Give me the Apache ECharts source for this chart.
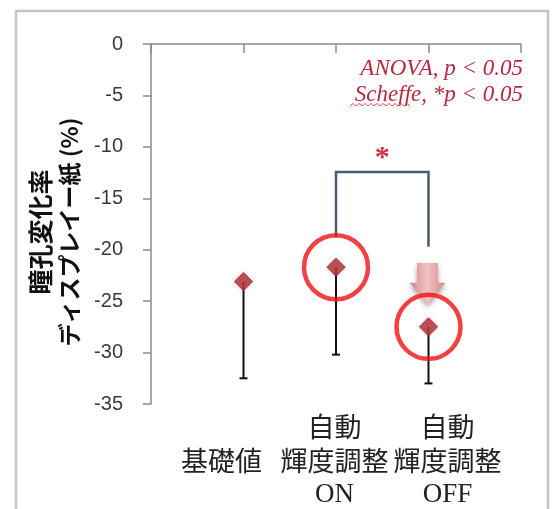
<!DOCTYPE html>
<html>
<head>
<meta charset="utf-8">
<script src="https://cdn.jsdelivr.net/npm/echarts@6/dist/echarts.min.js"></script>
<style>
html, body { margin: 0; padding: 0; background: #fff; }
#main { width: 554px; height: 509px; }
</style>
</head>
<body>
<div id="main"></div>
<script>
// 条件ごとの値
var categories = ['基礎値', '自動\n輝度調整\nON', '自動\n輝度調整\nOFF'];
var means = [-23.1, -21.7, -27.5];
var lows = [-32.5, -30.2, -33.0];
var circled = [1, 2];          // 赤丸で囲む条件
var yMin = -35, yMax = 0, yStep = 5;

// 有意差の括弧と矢印
var bracketFrom = 1, bracketTo = 2;
var bracketTop = -12.45, bracketLeftEnd = -18.8, bracketRightEnd = -19.7;
var arrowAt = 2, arrowTop = -21.3, arrowHead = -23.2, arrowTip = -25.3;

var slots = ['s0', 'c0', 'c1', 'c2', 's4'];   // 上の軸の目盛り位置

var myChart = echarts.init(document.getElementById('main'));

function slotOf(i) { return i + 1; }

// Scheffe の下の波線
var wave = [];
for (var wx = 350; wx <= 412; wx += 3) {
	wave.push([wx, (wx - 350) % 6 == 0 ? 106 : 103.5]);
}

var option = {
	animation: false,
	grid: [
		{ left: 151, right: 33, top: 44, bottom: 105 },
		{ left: 165, right: 50, top: 44, bottom: 105 }
	],
	xAxis: [{
		gridIndex: 0,
		type: 'category',
		data: slots,
		boundaryGap: false,
		position: 'top',
		axisLine: { lineStyle: { color: '#8a8a8a', width: 1.5 } },
		axisTick: { inside: true, length: 9, lineStyle: { color: '#8a8a8a', width: 1.5 } },
		axisLabel: { show: false },
		splitLine: { show: false }
	}, {
		gridIndex: 1,
		type: 'category',
		data: categories,
		position: 'bottom',
		axisLine: { show: false },
		axisTick: { show: false },
		splitLine: { show: false },
		axisLabel: {
			margin: 6,
			interval: 0,
			formatter: function (v) {
				var lines = v.split('\n');
				if (lines.length == 1) {
					return '{jp| }\n{jp|' + lines[0] + '}\n{en| }';
				}
				return '{jp|' + lines[0] + '}\n{jp|' + lines[1] + '}\n{en|' + lines[2] + '}';
			},
			rich: {
				jp: { fontFamily: 'Noto Sans CJK JP', fontSize: 27, lineHeight: 34, color: '#222' },
				en: { fontFamily: 'Liberation Serif', fontSize: 27, lineHeight: 34, color: '#222' }
			}
		}
	}],
	yAxis: [{
		gridIndex: 0,
		type: 'value',
		min: yMin,
		max: yMax,
		interval: yStep,
		name: '{a|瞳孔変化率}\n{b|ディスプレイー紙 (%)}',
		nameLocation: 'middle',
		nameRotate: 90,
		nameGap: 67,
		nameTextStyle: {
			padding: [0, 16, 0, 0],
			rich: {
				a: { fontFamily: 'Noto Sans CJK JP', fontWeight: 'bold', fontSize: 25, lineHeight: 29, color: '#111' },
				b: { fontFamily: 'Noto Sans CJK JP', fontWeight: 'bold', fontSize: 23, lineHeight: 29, color: '#111' }
			}
		},
		axisLine: { show: true, lineStyle: { color: '#8a8a8a', width: 1.5 } },
		axisTick: { show: true, length: 8, lineStyle: { color: '#8a8a8a', width: 1.5 } },
		axisLabel: { margin: 28, fontFamily: 'Liberation Sans', fontSize: 20, color: '#3a3a3a' },
		splitLine: { show: false }
	}, {
		gridIndex: 1,
		type: 'value',
		min: yMin,
		max: yMax,
		show: false
	}],
	graphic: [{
		type: 'rect',
		shape: { x: 16, y: 11, width: 532, height: 520 },
		style: { fill: 'none', stroke: '#c4c4c4', lineWidth: 2.5 },
		silent: true
	}, {
		type: 'text',
		right: 31,
		top: 57,
		style: { text: 'ANOVA, p < 0.05', font: 'italic 23px "Liberation Serif"', fill: '#b8283e' }
	}, {
		type: 'text',
		right: 31,
		top: 83,
		style: { text: 'Scheffe, *p < 0.05', font: 'italic 23px "Liberation Serif"', fill: '#b8283e' }
	}, {
		type: 'polyline',
		shape: { points: wave },
		style: { stroke: '#e05050', lineWidth: 1, fill: null },
		silent: true
	}],
	series: [{
		// エラーバー（下側のみ）
		type: 'custom',
		xAxisIndex: 0,
		yAxisIndex: 0,
		data: means.map(function (m, i) { return [slotOf(i), m, lows[i]]; }),
		renderItem: function (params, api) {
			var p1 = api.coord([api.value(0), api.value(1)]);
			var p2 = api.coord([api.value(0), api.value(2)]);
			return {
				type: 'group',
				children: [{
					type: 'line',
					shape: { x1: p1[0], y1: p1[1], x2: p2[0], y2: p2[1] },
					style: { stroke: '#111', lineWidth: 2 }
				}, {
					type: 'line',
					shape: { x1: p2[0] - 4, y1: p2[1], x2: p2[0] + 4, y2: p2[1] },
					style: { stroke: '#111', lineWidth: 2 }
				}]
			};
		},
		z: 2
	}, {
		type: 'scatter',
		xAxisIndex: 0,
		yAxisIndex: 0,
		symbol: 'diamond',
		symbolSize: 18,
		data: means.map(function (m, i) { return [slotOf(i), m]; }),
		itemStyle: {
			color: '#b0343a',
			borderColor: '#8e262b',
			borderWidth: 1,
			shadowBlur: 3,
			shadowColor: 'rgba(190,70,70,0.5)'
		},
		z: 4
	}, {
		// 赤丸
		type: 'scatter',
		xAxisIndex: 0,
		yAxisIndex: 0,
		symbol: 'circle',
		symbolSize: 64,
		data: circled.map(function (i) { return [slotOf(i), means[i]]; }),
		itemStyle: { color: 'rgba(0,0,0,0)', borderColor: '#f01010', borderWidth: 4.5 },
		z: 5
	}, {
		// 有意差の括弧と＊
		type: 'custom',
		xAxisIndex: 0,
		yAxisIndex: 0,
		data: [[slotOf(bracketFrom), slotOf(bracketTo), bracketTop, bracketLeftEnd, bracketRightEnd]],
		renderItem: function (params, api) {
			var a = api.coord([api.value(0), api.value(3)]);
			var b = api.coord([api.value(0), api.value(2)]);
			var c = api.coord([api.value(1), api.value(2)]);
			var d = api.coord([api.value(1), api.value(4)]);
			return {
				type: 'group',
				children: [{
					type: 'polyline',
					shape: { points: [a, b, c, d] },
					style: { stroke: '#4a5a70', lineWidth: 2.5, fill: null }
				}, {
					type: 'text',
					x: (b[0] + c[0]) / 2,
					y: b[1] - 14,
					style: {
						text: '*',
						font: 'bold 30px "Liberation Serif"',
						fill: '#cc3048',
						align: 'center',
						verticalAlign: 'middle'
					}
				}]
			};
		},
		z: 3
	}, {
		// 下向き矢印
		type: 'custom',
		xAxisIndex: 0,
		yAxisIndex: 0,
		data: [[slotOf(arrowAt), arrowTop, arrowHead, arrowTip]],
		renderItem: function (params, api) {
			var t = api.coord([api.value(0), api.value(1)]);
			var h = api.coord([api.value(0), api.value(2)]);
			var e = api.coord([api.value(0), api.value(3)]);
			var x = t[0] - 1;
			return {
				type: 'polygon',
				shape: {
					points: [
						[x - 10.5, t[1]], [x + 10.5, t[1]], [x + 10.5, h[1]], [x + 18, h[1]],
						[x, e[1]], [x - 18, h[1]], [x - 10.5, h[1]]
					]
				},
				style: {
					fill: new echarts.graphic.LinearGradient(0, 0, 1, 0, [
						{ offset: 0, color: '#d4888a' },
						{ offset: 0.5, color: '#f5c2c2' },
						{ offset: 1, color: '#d4888a' }
					]),
					shadowBlur: 5,
					shadowOffsetY: 3,
					shadowColor: 'rgba(0,0,0,0.35)'
				}
			};
		},
		z: 3
	}]
};
myChart.setOption(option);
</script>
</body>
</html>
